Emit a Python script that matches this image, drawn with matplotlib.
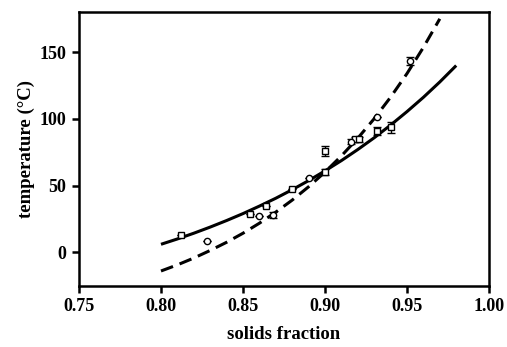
import matplotlib
matplotlib.use("Agg")
import matplotlib.pyplot as plt

# solid curve
solid_x = [0.80, 0.81, 0.82, 0.83, 0.84, 0.85, 0.86, 0.87, 0.88, 0.89, 0.90,
           0.91, 0.92, 0.93, 0.94, 0.95, 0.96, 0.97, 0.98]
solid_y = [6.0, 10.0, 14.3, 18.9, 23.8, 29.0, 34.6, 40.5, 46.9, 53.7, 61.0,
           68.7, 77.0, 85.8, 95.3, 105.4, 116.1, 127.6, 139.9]
# dashed curve
dash_x = [0.80, 0.81, 0.82, 0.83, 0.84, 0.85, 0.86, 0.87, 0.88, 0.89, 0.90,
          0.91, 0.92, 0.93, 0.94, 0.95, 0.96, 0.97]
dash_y = [-14.0, -9.4, -4.3, 1.4, 7.5, 14.3, 21.8, 30.1, 39.1, 49.1, 60.1,
          72.2, 85.5, 100.1, 116.2, 133.9, 153.5, 174.9]

# square markers
sq_x = [0.812, 0.854, 0.864, 0.880, 0.900, 0.900, 0.918, 0.921, 0.932, 0.940]
sq_y = [13.0, 28.6, 34.6, 47.3, 76.0, 60.2, 84.6, 84.6, 91.0, 93.5]
sq_err = [0, 0, 0, 0, 4.0, 2.0, 2.0, 2.0, 3.0, 4.0]
# circle markers
ci_x = [0.828, 0.860, 0.868, 0.890, 0.916, 0.932, 0.952]
ci_y = [8.5, 27.0, 28.0, 55.5, 83.0, 101.0, 143.0]
ci_err = [0, 0, 2.0, 0, 2.0, 0, 3.0]

xticks = [0.75, 0.80, 0.85, 0.90, 0.95, 1.00]
yticks = [0, 50, 100, 150]

plt.rcParams['font.family'] = ['Liberation Serif', 'DejaVu Serif']
plt.rcParams['font.weight'] = 'bold'

fig = plt.figure(figsize=(5.07, 3.47), dpi=100)
ax = fig.add_axes([0.1558, 0.1767, 0.8087, 0.7887])

ax.plot(solid_x, solid_y, color='black', lw=2.2, solid_capstyle='butt')
ax.plot(dash_x, dash_y, color='black', lw=2.2, linestyle=(0, (4.2, 2.3)))

ax.errorbar(sq_x, sq_y, yerr=sq_err, fmt='s', ms=5, mfc='white', mec='black',
            mew=1.0, ecolor='black', elinewidth=1.0, capsize=3, capthick=1.0, zorder=3)
ax.errorbar(ci_x, ci_y, yerr=ci_err, fmt='o', ms=4.5, mfc='white', mec='black',
            mew=1.0, ecolor='black', elinewidth=1.0, capsize=3, capthick=1.0, zorder=3)

ax.set_xlim(0.75, 1.00)
ax.set_ylim(-25, 180)
ax.set_xticks(xticks)
ax.set_xticklabels([f"{t:.2f}" for t in xticks])
ax.set_yticks(yticks)

for s in ax.spines.values():
    s.set_linewidth(1.8)
ax.tick_params(axis='both', direction='out', length=5, width=1.8, labelsize=13, pad=4)
for lbl in ax.get_xticklabels() + ax.get_yticklabels():
    lbl.set_fontweight('bold')

ax.set_xlabel('solids fraction', fontsize=13.5, fontweight='bold', labelpad=8)
ax.set_ylabel('temperature (\u00b0C)', fontsize=13.5, fontweight='bold', labelpad=3)

fig.savefig('out.png', dpi=100)
